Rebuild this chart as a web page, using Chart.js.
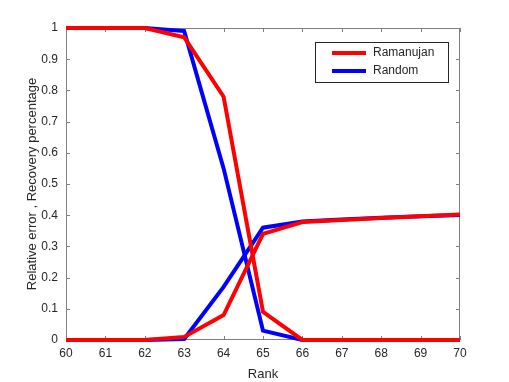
<!DOCTYPE html>
<html>
<head>
<meta charset="utf-8">
<script src="https://cdn.jsdelivr.net/npm/chart.js@4"></script>
<style>
  html, body { margin: 0; padding: 0; background: #fff; }
  #wrap { width: 509px; height: 382px; }
</style>
</head>
<body>
<div id="wrap"><canvas id="grafico" width="509" height="382"></canvas></div>
<script>
const ranks = [60, 61, 62, 63, 64, 65, 66, 67, 68, 69, 70];
const ramanujanError = [1, 1, 1, 0.97, 0.78, 0.09, 0, 0, 0, 0, 0];
const ramanujanRecovery = [0, 0, 0, 0.01, 0.08, 0.34, 0.378, 0.385, 0.391, 0.397, 0.402];
const randomError = [1, 1, 1, 0.99, 0.55, 0.03, 0, 0, 0, 0, 0];
const randomRecovery = [0, 0, 0, 0.003, 0.17, 0.36, 0.38, 0.386, 0.392, 0.397, 0.401];
const yTicks = [0, 0.1, 0.2, 0.3, 0.4, 0.5, 0.6, 0.7, 0.8, 0.9, 1];

const rojo = 'rgb(255, 0, 0)';
const azul = 'rgb(0, 0, 255)';
const gris = 'rgb(128, 128, 128)';
const texto = 'rgb(38, 38, 38)';
const fuente = '"Liberation Sans", Arial, sans-serif';

const puntos = (ys) => ranks.map((r, i) => ({ x: r, y: ys[i] }));

// marco tipo matlab con ticks hacia adentro (se dibuja antes de las lineas)
const marcoPlugin = {
    id: 'marco',
    beforeDatasetsDraw(chart) {
        const { ctx, chartArea: a, scales } = chart;
        ctx.save();
        ctx.strokeStyle = gris;
        ctx.lineWidth = 1;
        ctx.strokeRect(a.left + 0.5, a.top + 0.5, a.right - a.left - 1, a.bottom - a.top - 1);
        ctx.beginPath();
        ranks.forEach(r => {
            const px = Math.round(scales.x.getPixelForValue(r)) + 0.5;
            ctx.moveTo(px, a.bottom); ctx.lineTo(px, a.bottom - 4);
            ctx.moveTo(px, a.top); ctx.lineTo(px, a.top + 4);
        });
        yTicks.forEach(v => {
            const py = Math.round(scales.y.getPixelForValue(v)) + 0.5;
            ctx.moveTo(a.left, py); ctx.lineTo(a.left + 4, py);
            ctx.moveTo(a.right, py); ctx.lineTo(a.right - 4, py);
        });
        ctx.stroke();
        ctx.restore();
    },
    // leyenda en caja
    afterDraw(chart) {
        const ctx = chart.ctx;
        const items = chart.data.datasets.filter(d => d.enLeyenda);
        ctx.save();
        ctx.fillStyle = '#fff';
        ctx.fillRect(315, 42, 133, 40);
        ctx.strokeStyle = 'rgb(38, 38, 38)';
        ctx.lineWidth = 1;
        ctx.strokeRect(315.5, 42.5, 133, 40);
        ctx.font = '12px ' + fuente;
        ctx.textBaseline = 'middle';
        items.forEach((d, i) => {
            const y = 53 + i * 18;
            ctx.strokeStyle = d.borderColor;
            ctx.lineWidth = 4;
            ctx.beginPath();
            ctx.moveTo(332, y); ctx.lineTo(366, y);
            ctx.stroke();
            ctx.fillStyle = texto;
            ctx.fillText(d.label, 373, y);
        });
        ctx.restore();
    }
};

new Chart(document.getElementById('grafico'), {
    type: 'line',
    data: {
        datasets: [
            { label: 'Ramanujan', enLeyenda: true, data: puntos(ramanujanError), borderColor: rojo },
            { label: 'Ramanujan', data: puntos(ramanujanRecovery), borderColor: rojo },
            { label: 'Random', enLeyenda: true, data: puntos(randomError), borderColor: azul },
            { label: 'Random', data: puntos(randomRecovery), borderColor: azul }
        ].map(d => Object.assign(d, {
            borderWidth: 4,
            pointRadius: 0,
            fill: false,
            tension: 0,
            clip: false,
            borderJoinStyle: 'miter'
        }))
    },
    options: {
        responsive: false,
        animation: false,
        layout: { padding: { left: 0, top: 28, right: 49, bottom: 0 } },
        plugins: {
            legend: { display: false },
            tooltip: { enabled: false }
        },
        scales: {
            x: {
                type: 'linear',
                min: 60,
                max: 70,
                afterFit: (s) => { s.height = 42; },
                afterBuildTicks: (s) => { s.ticks = ranks.map(v => ({ value: v })); },
                grid: { display: false, drawTicks: false },
                border: { display: false },
                ticks: { color: texto, padding: 6, font: { family: fuente, size: 12 }, maxRotation: 0 },
                title: { display: true, text: 'Rank', color: texto, padding: { top: 2, bottom: 0 }, font: { family: fuente, size: 13 } }
            },
            y: {
                min: 0,
                max: 1,
                afterFit: (s) => { s.width = 66; },
                afterBuildTicks: (s) => { s.ticks = yTicks.map(v => ({ value: v })); },
                grid: { display: false, drawTicks: false },
                border: { display: false },
                ticks: { color: texto, padding: 8, font: { family: fuente, size: 12 }, callback: (v) => String(+v.toFixed(1)) },
                title: { display: true, text: 'Relative error , Recovery percentage', color: texto, padding: { top: 25, bottom: 0 }, font: { family: fuente, size: 13 } }
            }
        }
    },
    plugins: [marcoPlugin]
});
</script>
</body>
</html>
